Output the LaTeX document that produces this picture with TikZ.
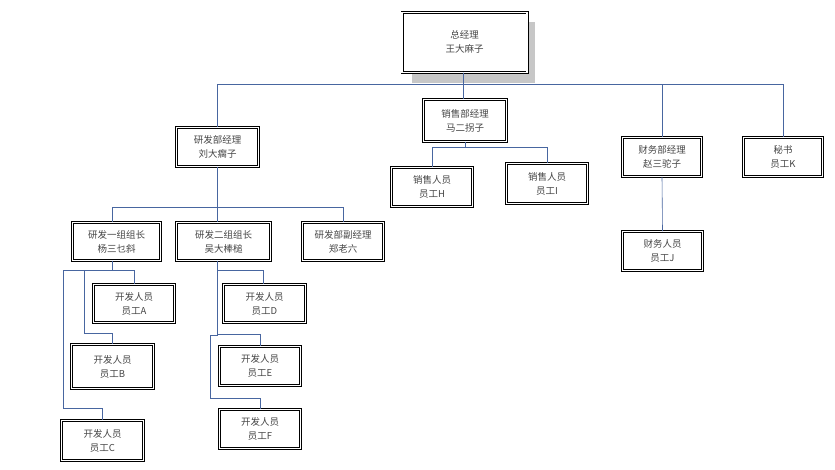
\documentclass[tikz,border=0pt]{standalone}
\usepackage{fontspec}
\newfontfamily\cjk{Noto Sans CJK SC}
\usepackage{tikz}
\usetikzlibrary{positioning,backgrounds}

\definecolor{linkblue}{RGB}{72,102,160}
\definecolor{txtgray}{RGB}{70,70,70}

\begin{document}
\begin{tikzpicture}[
			x=1pt, y=-1pt,
			orgnode/.style={
				rectangle,
				draw=black,
				line width=0.7pt,
				double=white,
				double distance=1.4pt,
				fill=white,
				inner sep=0pt,
				align=center,
				text=txtgray,
				font=\cjk\fontsize{9.5}{14}\selectfont
			},
			shadowfill/.style={
				fill=black!22
			},
			link/.style={
				line width=0.6pt,
				draw=linkblue
			}
			]
			\useasboundingbox (0,0) rectangle (835,470);
			% top level
			\node[orgnode, minimum width=125pt, minimum height=60pt] (gm) at (464.6,42.3) {总经理\\王大麻子};
			\node[orgnode, minimum width=82pt, minimum height=39pt] (rd) at (217.5,147) {研发部经理\\刘大瘸子};
			\node[orgnode, minimum width=83pt, minimum height=42pt] (sales) at (465,120.5) {销售部经理\\马二拐子};
			\node[orgnode, minimum width=79pt, minimum height=39pt] (fin) at (662,157) {财务部经理\\赵三驼子};
			\node[orgnode, minimum width=79pt, minimum height=39pt] (sec) at (783,157) {秘书\\员工K};
			% sales and finance staff
			\node[orgnode, minimum width=81pt, minimum height=39pt] (staffH) at (432,187) {销售人员\\员工H};
			\node[orgnode, minimum width=81pt, minimum height=40pt] (staffI) at (547,183.5) {销售人员\\员工I};
			\node[orgnode, minimum width=80pt, minimum height=39pt] (staffJ) at (662.5,251) {财务人员\\员工J};
			% research groups
			\node[orgnode, minimum width=88pt, minimum height=38pt] (grp1) at (116.5,241.5) {研发一组组长\\杨三乜斜};
			\node[orgnode, minimum width=94pt, minimum height=38pt] (grp2) at (223.5,241.5) {研发二组组长\\吴大棒槌};
			\node[orgnode, minimum width=81pt, minimum height=38pt] (deputy) at (343,241.5) {研发部副经理\\郑老六};
			% developers
			\node[orgnode, minimum width=81pt, minimum height=38pt] (devA) at (134,303.5) {开发人员\\员工A};
			\node[orgnode, minimum width=82pt, minimum height=44pt] (devB) at (112.5,366.5) {开发人员\\员工B};
			\node[orgnode, minimum width=82pt, minimum height=40pt] (devC) at (102.5,440.5) {开发人员\\员工C};
			\node[orgnode, minimum width=82pt, minimum height=38pt] (devD) at (264.5,303.5) {开发人员\\员工D};
			\node[orgnode, minimum width=81pt, minimum height=39pt] (devE) at (260,366) {开发人员\\员工E};
			\node[orgnode, minimum width=81pt, minimum height=39pt] (devF) at (260,429) {开发人员\\员工F};
			
			% shadow of the top box
			\begin{scope}[on background layer]
				\fill[shadowfill] ([xshift=10pt,yshift=-10pt]gm.north west) rectangle ([xshift=8pt,yshift=-10pt]gm.south east);
			\end{scope}
			
			\draw[link] ([xshift=-1.5pt]gm.south) -- ++(0,12) -| (rd.north);
			\draw[link] ([xshift=-1.5pt]gm.south) -- ++(0,12) -| ([xshift=-2pt]sales.north);
			\draw[link] ([xshift=-1.5pt]gm.south) -- ++(0,12) -| (fin.north);
			\draw[link] ([xshift=-1.5pt]gm.south) -- ++(0,12) -| (sec.north);
			\draw[link] (sales.south) -- ++(0,5) -| (staffH.north);
			\draw[link] (sales.south) -- ++(0,5) -| (staffI.north);
			\draw[link] (fin.south) -- (staffJ.north);
			\draw[link] (rd.south) -- ++(0,40) -| ([xshift=-4.5pt]grp1.north);
			\draw[link] (rd.south) -- ++(0,40) -| ([xshift=-6.5pt]grp2.north);
			\draw[link] (rd.south) -- ++(0,40) -| (deputy.north);
			\draw[link] ([xshift=-4.5pt]grp1.south) -- ++(0,9) -| (devA.north);
			\draw[link] ([xshift=-4.5pt]grp1.south) -- ++(0,9) -| (84,333) -| (devB.north);
			\draw[link] ([xshift=-4.5pt]grp1.south) -- ++(0,9) -| (63,408) -| (devC.north);
			\draw[link] ([xshift=-6.5pt]grp2.south) -- ++(0,9) -| ([xshift=-1.5pt]devD.north);
			\draw[link] ([xshift=-6.5pt]grp2.south) -- ++(0,73) -| (devE.north);
			\draw[link] ([xshift=-6.5pt]grp2.south) |- (210,335) -- (210,398) -| (devF.north);
		\end{tikzpicture}
\end{document}
